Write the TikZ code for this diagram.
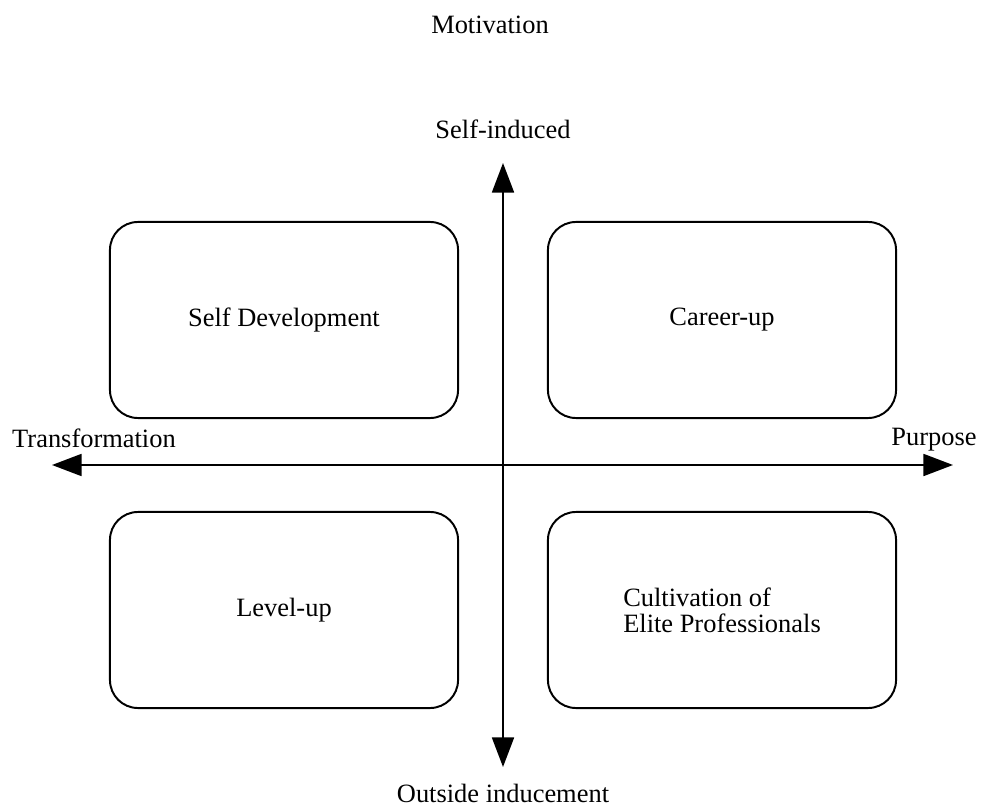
\documentclass[tikz,border=0pt]{standalone}
\usepackage{fontspec}
\setmainfont{Liberation Serif}
\usetikzlibrary{arrows.meta}

\begin{document}
\begin{tikzpicture}[
    x=0.025cm,
    y=-0.025cm,
    quadrant/.style={
        rectangle,
        draw,
        line width=1.4pt,
        rounded corners=0.7cm,
        align=center,
        minimum width=8.7cm,
        minimum height=4.9cm,
        font=\fontsize{18.8}{18.6}\selectfont
    },
    label/.style={
        font=\fontsize{18.8}{23}\selectfont
    },
    axis/.style={
        line width=1.4pt,
        {Triangle[length=21pt,width=15.6pt]}-{Triangle[length=21pt,width=15.6pt]}
    }
]
\useasboundingbox (0,0) rectangle (981,807);

\node[label] (title) at (490,25) {Motivation};

\coordinate (top) at (503,163);
\coordinate (bottom) at (503,767);
\coordinate (left) at (52,465);
\coordinate (right) at (953,465);

\node[label] (selfinduced) at (503,129) {Self-induced};
\node[label] (outside) at (503,793) {Outside inducement};
\node[label] (transformation) at (94,438) {Transformation};
\node[label] (purpose) at (934,440) {Purpose};


\node[quadrant] (selfdev) at (284,320)
    {Self Development};

\node[quadrant] (career) at (722,320)
    {Career-up};


\node[quadrant] (levelup) at (284,610)
    {Level-up};

\node[quadrant, align=left] (elite) at (722,610)
    {Cultivation of\\Elite Professionals};


\draw[axis] (bottom) -- (top);
\draw[axis] (left) -- (right);

\end{tikzpicture}
\end{document}
